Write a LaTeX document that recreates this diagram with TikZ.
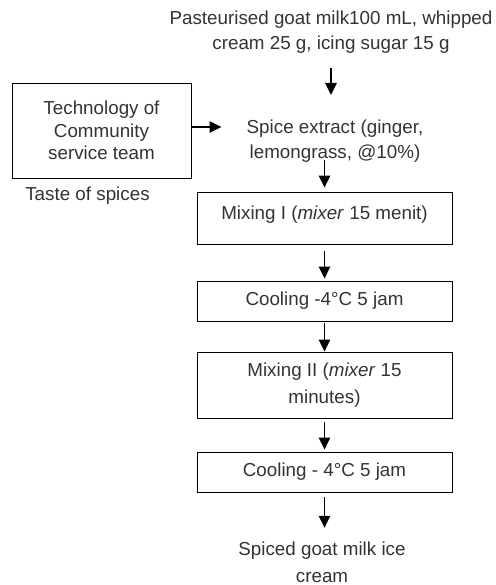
\documentclass[tikz,border=0pt]{standalone}
\usepackage{fontspec}
\setmainfont{Liberation Sans}
\usetikzlibrary{arrows.meta}

\begin{document}
\begin{tikzpicture}[
    x = 1pt, y = -1pt,
    every node/.style = {font = \fontsize{18.8}{25}\selectfont,
      text = black!80, inner sep = 0pt},
    stepbox/.style = {draw, line width = 0.9pt,
      minimum width = 255pt, minimum height = 40pt},
    flow/.style = {-{Triangle[length = 12pt, width = 11.5pt]},
      line width = 1.4pt}
  ]

  \useasboundingbox (0, 0) rectangle (495, 585);

  % inputs
  \node[align = center] (input) at (331, 32.5)
    {Pasteurised goat milk100 mL, whipped\\ cream 25 g, icing sugar 15 g};
  \node[align = center] (spice) at (335, 141)
    {Spice extract (ginger,\\ lemongrass, @10\%)};
  \node[draw, line width = 0.9pt, align = center,
    minimum width = 179pt, minimum height = 95pt,
    font = \fontsize{18.8}{22.5}\selectfont] (tech) at (101.5, 130.5)
    {Technology of\\ Community\\ service team};
  \node (taste) at (87.5, 195.5) {Taste of spices};

  % process
  \node[stepbox, minimum height = 52pt, text depth = 11pt] (mix1)
    at (324.5, 218) {Mixing I (\textit{mixer} 15 menit)};
  \node[stepbox] (cool1) at (324.5, 301) {Cooling -4°C 5 jam};
  \node[stepbox, minimum height = 66pt, align = center,
    font = \fontsize{18.8}{27}\selectfont] (mix2) at (324.5, 385)
    {Mixing II (\textit{mixer} 15\\ minutes)};
  \node[stepbox] (cool2) at (324.5, 472) {Cooling - 4°C 5 jam};
  \node[align = center, font = \fontsize{18.8}{27}\selectfont] (output)
    at (322, 562) {Spiced goat milk ice\\ cream};

  \coordinate (techout) at ([yshift = 3.5pt]tech.east);

  \draw[flow, shorten < = 14pt, shorten > = 24.6pt]
    (input.south) -- (input.south |- spice.north);
  \draw[flow, shorten > = 25pt] (techout) -- (techout -| spice.west);
  \draw[flow, shorten < = -2.5pt, shorten > = 4pt]
    (spice.south -| mix1.north) -- (mix1.north);
  \draw[flow, shorten < = 7pt, shorten > = 2pt] (mix1) -- (cool1);
  \draw[flow, shorten < = 2pt] (cool1) -- (mix2);
  \draw[flow, shorten < = 4pt, shorten > = 2pt] (mix2) -- (cool2);
  \draw[flow, shorten < = 5pt, shorten > = 13.6pt]
    (cool2) -- (cool2.south |- output.north);

\end{tikzpicture}
\end{document}
